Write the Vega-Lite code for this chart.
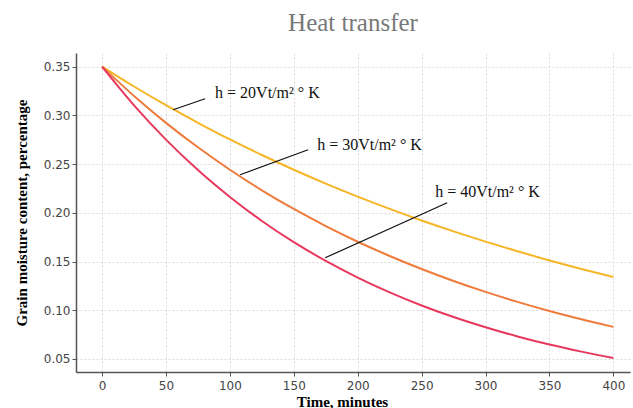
{
  "$schema": "https://vega.github.io/schema/vega-lite/v6.json",
  "autosize": {"type": "none"},
  "padding": {"left": 76, "top": 53, "right": 3, "bottom": 36},
  "width": 554,
  "height": 319,
  "background": "white",
  "title": {"text": "Heat transfer", "font": "Liberation Serif", "fontSize": 25, "fontWeight": "normal", "color": "#777777", "offset": 17, "anchor": "middle"},
  "config": {
    "view": {"stroke": null},
    "axis": {
      "domainColor": "#555555", "domainWidth": 1.5, "tickColor": "#555555", "tickSize": 4,
      "gridColor": "#dadada", "gridDash": [2, 2], "gridWidth": 1,
      "labelFont": "DejaVu Sans", "labelFontSize": 12, "labelColor": "#444444",
      "titleFont": "Liberation Serif", "titleFontSize": 15, "titleFontWeight": "bold", "titleColor": "#000000"
    }
  },
  "datasets": {
    "curves": [
      {"t": 0, "y": 0.35, "h": "20"}, {"t": 25, "y": 0.3296, "h": "20"}, {"t": 50, "y": 0.3104, "h": "20"}, {"t": 75, "y": 0.2924, "h": "20"}, {"t": 100, "y": 0.2753, "h": "20"}, {"t": 125, "y": 0.2593, "h": "20"}, {"t": 150, "y": 0.2442, "h": "20"}, {"t": 175, "y": 0.23, "h": "20"}, {"t": 200, "y": 0.2166, "h": "20"}, {"t": 225, "y": 0.204, "h": "20"}, {"t": 250, "y": 0.1921, "h": "20"}, {"t": 275, "y": 0.1809, "h": "20"}, {"t": 300, "y": 0.1704, "h": "20"}, {"t": 325, "y": 0.1605, "h": "20"}, {"t": 350, "y": 0.1511, "h": "20"}, {"t": 375, "y": 0.1423, "h": "20"}, {"t": 400, "y": 0.134, "h": "20"},
      {"t": 0, "y": 0.35, "h": "30"}, {"t": 25, "y": 0.3199, "h": "30"}, {"t": 50, "y": 0.2923, "h": "30"}, {"t": 75, "y": 0.2672, "h": "30"}, {"t": 100, "y": 0.2442, "h": "30"}, {"t": 125, "y": 0.2231, "h": "30"}, {"t": 150, "y": 0.2039, "h": "30"}, {"t": 175, "y": 0.1864, "h": "30"}, {"t": 200, "y": 0.1703, "h": "30"}, {"t": 225, "y": 0.1557, "h": "30"}, {"t": 250, "y": 0.1423, "h": "30"}, {"t": 275, "y": 0.13, "h": "30"}, {"t": 300, "y": 0.1188, "h": "30"}, {"t": 325, "y": 0.1086, "h": "30"}, {"t": 350, "y": 0.0992, "h": "30"}, {"t": 375, "y": 0.0907, "h": "30"}, {"t": 400, "y": 0.0829, "h": "30"},
      {"t": 0, "y": 0.35, "h": "40"}, {"t": 25, "y": 0.3103, "h": "40"}, {"t": 50, "y": 0.2751, "h": "40"}, {"t": 75, "y": 0.2438, "h": "40"}, {"t": 100, "y": 0.2162, "h": "40"}, {"t": 125, "y": 0.1916, "h": "40"}, {"t": 150, "y": 0.1699, "h": "40"}, {"t": 175, "y": 0.1506, "h": "40"}, {"t": 200, "y": 0.1335, "h": "40"}, {"t": 225, "y": 0.1184, "h": "40"}, {"t": 250, "y": 0.1049, "h": "40"}, {"t": 275, "y": 0.093, "h": "40"}, {"t": 300, "y": 0.0825, "h": "40"}, {"t": 325, "y": 0.0731, "h": "40"}, {"t": 350, "y": 0.0648, "h": "40"}, {"t": 375, "y": 0.0575, "h": "40"}, {"t": 400, "y": 0.0509, "h": "40"}
    ],
    "notes": [
      {"t1": 55.6, "y1": 0.3058, "t2": 80.6, "y2": 0.3171, "tx": 88.4, "ty": 0.3233, "label": "h = 20Vt/m² ° K"},
      {"t1": 108.0, "y1": 0.239, "t2": 161.2, "y2": 0.2647, "tx": 168.3, "ty": 0.2699, "label": "h = 30Vt/m² ° K"},
      {"t1": 174.5, "y1": 0.1538, "t2": 270.0, "y2": 0.2103, "tx": 260.6, "ty": 0.2216, "label": "h = 40Vt/m² ° K"}
    ]
  },
  "layer": [
    {
      "data": {"name": "curves"},
      "mark": {"type": "line", "strokeWidth": 2, "interpolate": "monotone"},
      "encoding": {
        "x": {"field": "t", "type": "quantitative", "scale": {"domain": [-20.4, 413], "nice": false, "zero": false},
              "axis": {"values": [0, 50, 100, 150, 200, 250, 300, 350, 400], "title": "Time, minutes", "titlePadding": 3, "labelPadding": 4, "titleX": 266}},
        "y": {"field": "y", "type": "quantitative", "scale": {"domain": [0.0366, 0.364], "nice": false, "zero": false},
              "axis": {"values": [0.05, 0.1, 0.15, 0.2, 0.25, 0.3, 0.35], "format": ".2f", "title": "Grain moisture content, percentage", "titlePadding": 14, "labelPadding": 2}},
        "color": {"field": "h", "type": "nominal", "scale": {"domain": ["20", "30", "40"], "range": ["#f6b526", "#ee7b3b", "#e8385e"]}, "legend": null}
      }
    },
    {
      "data": {"name": "notes"},
      "mark": {"type": "rule", "color": "#111111", "strokeWidth": 1.2},
      "encoding": {
        "x": {"field": "t1", "type": "quantitative"},
        "y": {"field": "y1", "type": "quantitative"},
        "x2": {"field": "t2"},
        "y2": {"field": "y2"}
      }
    },
    {
      "data": {"name": "notes"},
      "mark": {"type": "text", "align": "left", "baseline": "middle", "font": "Liberation Serif", "fontSize": 16, "color": "#111111"},
      "encoding": {
        "x": {"field": "tx", "type": "quantitative"},
        "y": {"field": "ty", "type": "quantitative"},
        "text": {"field": "label"}
      }
    }
  ]
}
